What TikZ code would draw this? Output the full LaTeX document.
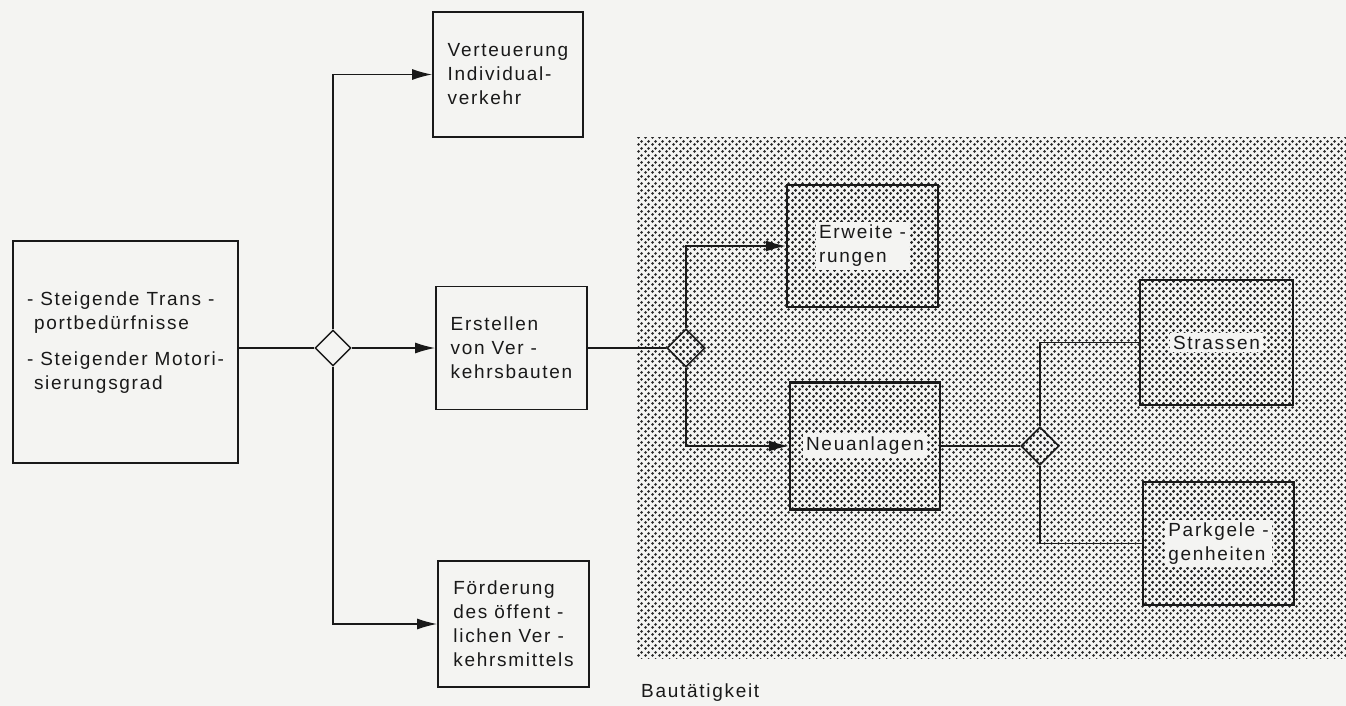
\documentclass[tikz,border=0pt]{standalone}
\usepackage{fontspec}
\setmainfont{Liberation Sans}[LetterSpace=9]
\usetikzlibrary{arrows.meta,shapes.geometric,patterns.meta}
\definecolor{paper}{RGB}{244,244,242}
\definecolor{ink}{RGB}{25,25,25}
\definecolor{dotink}{RGB}{40,40,40}
\tikzdeclarepattern{
  name=halftone,
  type=uncolored,
  bounding box={(0pt,0pt) and (7pt,7pt)},
  tile size={(7pt,7pt)},
  code={
    \fill (1.75pt,1.75pt) circle (1.7pt);
    \fill (5.25pt,5.25pt) circle (1.7pt);
  }
}
\begin{document}
\begin{tikzpicture}[x=1pt,y=-1pt,
  every node/.style={font=\fontsize{19}{24}\selectfont, text=ink},
  wbox/.style={draw=ink, line width=1.8pt, fill=paper, align=left, inner sep=0pt},
  sbox/.style={draw=ink, line width=2.4pt, pattern=halftone, pattern color=dotink, inner sep=0pt},
  lbl/.style={fill=paper, align=left, inner sep=3pt},
  wdia/.style={draw=ink, line width=1.4pt, fill=paper, shape=diamond, inner sep=0pt, minimum width=36pt, minimum height=36pt},
  sdia/.style={draw=ink, line width=1.6pt, shape=diamond, inner sep=0pt, minimum width=38pt, minimum height=38pt, pattern=halftone, pattern color=dotink},
  conn/.style={draw=ink, line width=1.4pt},
  arr/.style={conn, -{Latex[length=20pt,width=11pt]}}
]
\fill[paper] (0,0) rectangle (1346,706);
\useasboundingbox (0,0) rectangle (1346,706);

% shaded region
\path[pattern=halftone, pattern color=dotink] (636,138) rectangle (1346,658);
\node[anchor=base west, inner sep=0pt] (bau) at (641,697) {Bautätigkeit};

% white region boxes
\node[wbox, minimum width=225pt, minimum height=222pt] (left) at (125.5,352)
  {- Steigende Trans -\\\ portbedürfnisse\\[12pt]- Steigender Motori-\\\ sierungsgrad\\[-2pt]};
\node[wbox, minimum width=150pt, minimum height=125pt] (top) at (508,74.5)
  {Verteuerung\\Individual-\\verkehr};
\node[wbox, minimum width=151pt, minimum height=123pt] (erst) at (511.5,348)
  {Erstellen\\von Ver -\\kehrsbauten};
\node[wbox, minimum width=151pt, minimum height=126pt] (bot) at (513.5,624)
  {Förderung\\des öffent -\\lichen Ver -\\kehrsmittels};

\node[wdia] (d1) at (333,348) {};

% shaded region boxes
\node[sbox, minimum width=151pt, minimum height=122pt] (erw) at (862.5,246) {};
\node[lbl] at (erw) {Erweite -\\rungen};
\node[sbox, minimum width=150pt, minimum height=127pt] (neu) at (865,446) {};
\node[lbl] at (neu) {Neuanlagen};
\node[sbox, minimum width=153pt, minimum height=125pt] (str) at (1216.5,342.5) {};
\node[lbl] at (str) {Strassen};
\node[sbox, minimum width=151pt, minimum height=123pt] (park) at (1218.5,543.5) {};
\node[lbl] at (park) {Parkgele -\\genheiten};

\node[sdia] (d2) at (686,348) {};
\node[sdia] (d3) at (1040,446) {};

% connectors
\draw[conn] (left.east |- d1.west) -- (d1.west);
\draw[arr] (d1.east) -- (erst.west);
\draw[arr] (d1.north) |- (top.west);
\draw[arr] (d1.south) |- (bot.west);
\draw[conn] (erst.east) -- (d2.west);
\draw[arr] (d2.north) |- (erw.west);
\draw[arr] (d2.south) |- (neu.west);
\draw[conn] (neu.east) -- (d3.west);
\draw[conn] (d3.north) |- (str.west);
\draw[conn] (d3.south) |- (park.west);
\end{tikzpicture}
\end{document}
